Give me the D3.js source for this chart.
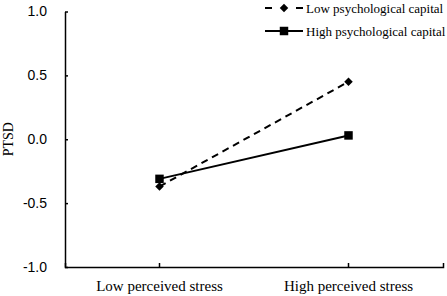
<!DOCTYPE html>
<html>
<head>
<meta charset="utf-8">
<script src="https://cdn.jsdelivr.net/npm/d3@7"></script>
<style>
  body { margin: 0; background: #fff; }
  svg { display: block; }
  .axis path, .axis line { stroke: #000; stroke-width: 1.5px; }
  .y-axis text { font-family: "Liberation Sans", Arial, sans-serif; font-size: 14px; fill: #000; }
  .x-axis text { font-family: "Liberation Serif", "Times New Roman", serif; font-size: 15px; fill: #000; }
  .axis-title, .legend text { font-family: "Liberation Serif", "Times New Roman", serif; fill: #000; }
</style>
</head>
<body>
<svg id="chart"></svg>
<script>
// chart data
const categories = ['Low perceived stress', 'High perceived stress'];
const seriesNames = ['Low psychological capital', 'High psychological capital'];
const lowCapital = [-0.37, 0.45];
const highCapital = [-0.31, 0.03];
const yTicks = [-1.0, -0.5, 0.0, 0.5, 1.0];

const config = {
  containerWidth: 447,
  containerHeight: 296,
  margin: {top: 11.5, right: 4, bottom: 29, left: 65}
};

const width = config.containerWidth - config.margin.left - config.margin.right;
const height = config.containerHeight - config.margin.top - config.margin.bottom;

const svg = d3.select('#chart')
    .attr('width', config.containerWidth)
    .attr('height', config.containerHeight);

const chart = svg.append('g')
    .attr('transform', `translate(${config.margin.left},${config.margin.top})`);

// scales
const xScale = d3.scaleBand()
    .domain(categories)
    .range([0, width]);

const yScale = d3.scaleLinear()
    .domain([-1, 1])
    .range([height, 0]);

const xPos = c => xScale(c) + xScale.bandwidth() / 2;

// axes
const xAxis = d3.axisBottom(xScale)
    .tickSize(-4)
    .tickSizeOuter(-4)
    .tickPadding(13);

const yAxis = d3.axisLeft(yScale)
    .tickValues(yTicks)
    .tickSize(-3)
    .tickSizeOuter(0)
    .tickPadding(18);

chart.append('g')
    .attr('class', 'axis x-axis')
    .attr('transform', `translate(0,${height})`)
    .call(xAxis)
    .call(g => g.selectAll('.tick text').attr('dy', '0.71em'));

chart.append('g')
    .attr('class', 'axis y-axis')
    .call(yAxis)
    .call(g => g.selectAll('.tick text').text(d => d3.format('.1f')(d).replace('−', '-')));

// y axis title
chart.append('text')
    .attr('class', 'axis-title')
    .attr('transform', `translate(${8 - config.margin.left},${yScale(0)}) rotate(-90)`)
    .attr('dy', '0.35em')
    .style('text-anchor', 'middle')
    .style('font-size', '14px')
    .text('PTSD');

// series
const series = [
  {name: seriesNames[0], values: lowCapital, dash: '7,5', marker: 'diamond'},
  {name: seriesNames[1], values: highCapital, dash: null, marker: 'square'}
];

const line = d3.line()
    .x((d, i) => xPos(categories[i]))
    .y(d => yScale(d));

// diamond = square turned 45 degrees
const diamond = d3.symbol().type(d3.symbolSquare).size(36);
const square = d3.symbol().type(d3.symbolSquare).size(72);
const markerTransform = (m, x, y) => `translate(${x},${y})` + (m === 'diamond' ? ' rotate(45)' : '');

series.forEach(s => {
  chart.append('path')
      .datum(s.values)
      .attr('fill', 'none')
      .attr('stroke', '#000')
      .attr('stroke-width', 2)
      .attr('stroke-dasharray', s.dash)
      .attr('d', line);

  chart.selectAll(null)
      .data(s.values)
      .join('path')
      .attr('transform', (d, i) => markerTransform(s.marker, xPos(categories[i]), yScale(d)))
      .attr('d', s.marker === 'diamond' ? diamond : square)
      .attr('fill', '#000');
});

// legend
const legend = svg.append('g')
    .attr('class', 'legend')
    .attr('transform', 'translate(265,8)');

series.forEach((s, i) => {
  const row = legend.append('g')
      .attr('transform', `translate(0,${i * 23})`);
  if (s.dash) {
    row.append('line').attr('x1', 0).attr('x2', 7).attr('stroke', '#000').attr('stroke-width', 2);
    row.append('line').attr('x1', 31).attr('x2', 38).attr('stroke', '#000').attr('stroke-width', 2);
  } else {
    row.append('line').attr('x1', 0).attr('x2', 38).attr('stroke', '#000').attr('stroke-width', 2);
  }
  row.append('path')
      .attr('transform', markerTransform(s.marker, 19, 0))
      .attr('d', s.marker === 'diamond' ? diamond : square)
      .attr('fill', '#000');
  row.append('text')
      .attr('x', 41)
      .attr('dy', '0.35em')
      .style('font-size', '13px')
      .text(s.name);
});
</script>
</body>
</html>
